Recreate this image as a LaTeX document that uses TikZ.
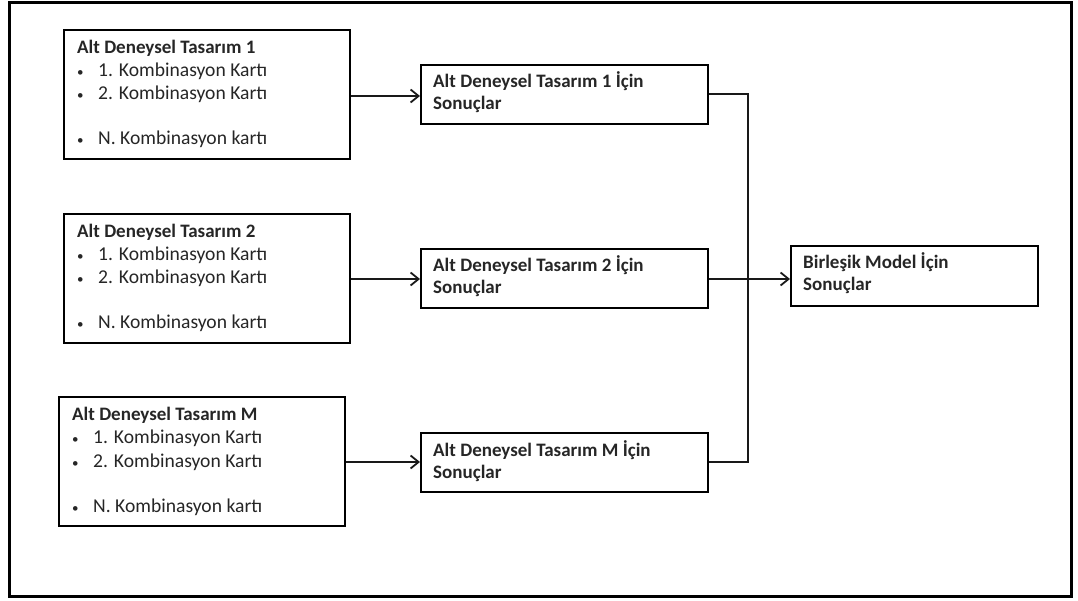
\documentclass[tikz,border=0pt]{standalone}
\usepackage{fontspec}
\setmainfont{Carlito}
\usetikzlibrary{arrows.meta}
\begin{document}
\begin{tikzpicture}[x=1pt,y=-1pt,
  box/.style={draw=black,line width=2pt,fill=white,inner sep=0pt,anchor=north west},
  ttl/.style={anchor=base west,inner sep=0pt,font=\fontsize{19}{21}\selectfont\bfseries,text=black!85},
  itm/.style={anchor=base west,inner sep=0pt,font=\fontsize{19.6}{21}\selectfont,text=black!85},
  bul/.style={anchor=base west,inner sep=0pt,font=\fontsize{13}{15}\selectfont,text=black!85},
  conn/.style={line width=2pt,draw=black!90},
  arr/.style={conn,-{Straight Barb[length=8pt,width=13pt,line width=1.8pt]}}]
\useasboundingbox (0,0) rectangle (1078,601);
\fill[white] (0,0) rectangle (1078,601);
\draw[line width=2.6pt,black] (9.5,2.5) rectangle (1071.5,596.5);
% left boxes
\foreach \n/\x/\y/\t in {a/63/29/1,b/63/213/2,c/58/396/M}{
  \node[box,minimum width=286pt,minimum height=129pt] (\n) at (\x,\y) {};
  \node[ttl] (\n t) at (\x+14,\y+24.5) {Alt Deneysel Tasarım \t};
  \node[bul] (\n b1) at (\x+14,\y+47.5) {•};
  \node[itm] (\n i1) at (\x+35,\y+47.5) {1. Kombinasyon Kartı};
  \node[bul] (\n b2) at (\x+14,\y+71) {•};
  \node[itm] (\n i2) at (\x+35,\y+71) {2. Kombinasyon Kartı};
  \node[bul] (\n b3) at (\x+14,\y+116) {•};
  \node[itm] (\n i3) at (\x+35,\y+116) {N. Kombinasyon kartı};
}
% result boxes
\foreach \n/\y/\t in {ra/64/1,rb/248/2,rc/432/M}{
  \node[box,minimum width=287pt,minimum height=59pt] (\n) at (420,\y) {};
  \node[ttl] (\n t1) at (433,\y+24) {Alt Deneysel Tasarım \t{} İçin};
  \node[ttl] (\n t2) at (433,\y+46) {Sonuçlar};
}
\node[box,minimum width=247pt,minimum height=60pt] (f) at (790,245) {};
\node[ttl] (ft1) at (803,269) {Birleşik Model İçin};
\node[ttl] (ft2) at (803,291) {Sonuçlar};
% connectors
\coordinate (j1) at (748,94);
\coordinate (j3) at (748,462);
\draw[arr] (a.east |- 0,96) -- (ra.west |- 0,96);
\draw[arr] (b.east |- 0,279) -- (rb.west |- 0,279);
\draw[arr] (c.east |- 0,462) -- (rc.west |- 0,462);
\draw[conn] (ra.east |- j1) -- (j1) -- (j3) -- (rc.east |- j3);
\draw[arr] (rb.east |- 0,279) -- (f.west |- 0,279);
\end{tikzpicture}
\end{document}
